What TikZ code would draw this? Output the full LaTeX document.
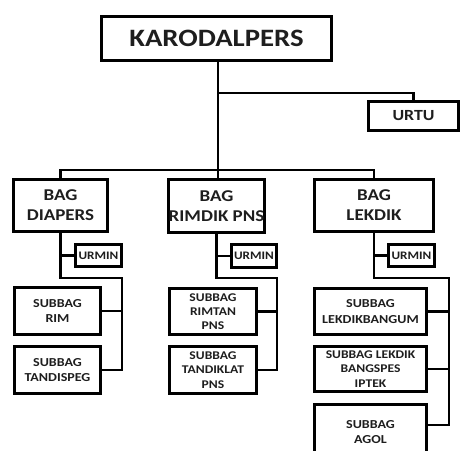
\documentclass[tikz,border=0pt]{standalone}
\usepackage{fontspec}
\setmainfont{Carlito}[FakeStretch=1.15]
\usetikzlibrary{shadows,calc}
\definecolor{txt}{HTML}{1E1E1E}
\tikzset{
  box/.style={draw=black, line width=3pt, fill=white, align=center, inner sep=0pt,
    text=txt, font=\bfseries, drop shadow={shadow xshift=1.2pt, shadow yshift=-1.2pt, opacity=0.25, fill=black}},
  conn/.style={draw=black, line width=2.6pt, line join=miter},
  fkaro/.style={font=\fontsize{25}{29}\selectfont\bfseries},
  fbag/.style={font=\fontsize{16.5}{20}\selectfont\bfseries},
  fsub/.style={font=\fontsize{12.2}{15.5}\selectfont\bfseries},
  fsubt/.style={font=\fontsize{11.8}{14.2}\selectfont\bfseries},
  fsm/.style={font=\fontsize{11.5}{13}\selectfont\bfseries},
  furtu/.style={font=\fontsize{15.5}{18}\selectfont\bfseries},
}
\begin{document}
\begin{tikzpicture}[x=1pt,y=-1pt]
\useasboundingbox (0,0) rectangle (462,450);
\clip (0,0) rectangle (462,450);
% coordinates for junctions
\coordinate (tU) at (218,93);
\coordinate (tB) at (218,170);
\coordinate (r1) at (122,278);
\coordinate (r2) at (277,278);
\coordinate (r3) at (449,278);

\path (216.5,38.5) node[box,fkaro,minimum width=230pt,minimum height=44pt] (karo) {KARODALPERS};
\path (413.5,116) node[box,furtu,minimum width=90pt,minimum height=29pt] (urtu) {URTU};

\path (60.5,205.5) node[box,fbag,minimum width=94pt,minimum height=52pt] (bag1) {BAG\\DIAPERS};
\path (216.5,206) node[box,fbag,minimum width=94pt,minimum height=53pt] (bag2) {BAG\\RIMDIK PNS};
\path (374,205.5) node[box,fbag,minimum width=119pt,minimum height=52pt] (bag3) {BAG\\LEKDIK};

\path (98.5,255.5) node[box,fsm,minimum width=46pt,minimum height=22pt] (urmin1) {URMIN};
\path (254,256) node[box,fsm,minimum width=45pt,minimum height=23pt] (urmin2) {URMIN};
\path (411.5,255.5) node[box,fsm,minimum width=46pt,minimum height=22pt] (urmin3) {URMIN};

\path (57.5,311) node[box,fsub,minimum width=86pt,minimum height=47pt] (rim) {SUBBAG\\RIM};
\path (57.5,370) node[box,fsub,minimum width=86pt,minimum height=47pt] (tandispeg) {SUBBAG\\TANDISPEG};

\path (213,311.5) node[box,fsubt,minimum width=87pt,minimum height=46pt] (rimtan) {SUBBAG\\RIMTAN\\PNS};
\path (213,370) node[box,fsubt,minimum width=87pt,minimum height=47pt] (tandiklat) {SUBBAG\\TANDIKLAT\\PNS};

\path (370.5,311.5) node[box,fsub,minimum width=112pt,minimum height=46pt] (bangum) {SUBBAG\\LEKDIKBANGUM};
\path (370.5,369) node[box,fsubt,minimum width=112pt,minimum height=45pt] (bangspes) {SUBBAG LEKDIK\\BANGSPES\\IPTEK};
\path (370.5,432) node[box,fsub,minimum width=112pt,minimum height=55pt] (agol) {SUBBAG\\AGOL};

% top connectors
\draw[conn] (tU |- karo.south) -- (tU |- bag2.north);
\draw[conn] (tU) -| (urtu.north);
\draw[conn] (bag1.north) |- (tB) -| (bag3.north);

% branch 1
\draw[conn] (bag1.south) |- (urmin1.west);
\draw[conn] (bag1.south) -- (bag1.south |- r1) -- (r1) -- (r1 |- tandispeg.east) -- (tandispeg.east);
\draw[conn] (rim.east) -- (rim.east -| r1);

% branch 2
\draw[conn] (bag2.south) |- (urmin2.west);
\draw[conn] (bag2.south) -- (bag2.south |- r2) -- (r2) -- (r2 |- tandiklat.east) -- (tandiklat.east);
\draw[conn] (rimtan.east) -- (rimtan.east -| r2);

% branch 3
\draw[conn] (bag3.south) |- (urmin3.west);
\draw[conn] (bag3.south) -- (bag3.south |- r3) -- (r3) -- ($(r3 |- agol.east)+(0,-7)$) -- ($(agol.east)+(0,-7)$);
\draw[conn] (bangum.east) -- (bangum.east -| r3);
\draw[conn] (bangspes.east) -- (bangspes.east -| r3);
\end{tikzpicture}
\end{document}
